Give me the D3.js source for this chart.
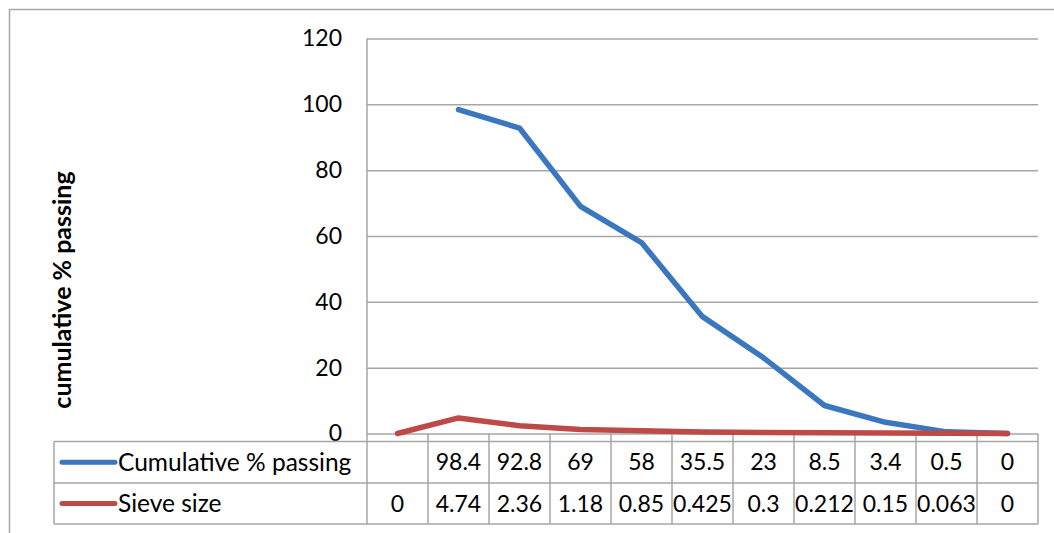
<!DOCTYPE html>
<html>
<head>
<meta charset="utf-8">
<script src="https://cdn.jsdelivr.net/npm/d3@7/dist/d3.min.js"></script>
<style>
html,body{margin:0;padding:0;background:#fff;}
svg{display:block;}
text{font-family:Lato,"Open Sans",sans-serif;fill:#000;}
</style>
</head>
<body>
<svg id="chart" width="1054" height="533"></svg>
<script>
// ---- data ----
const categories = ["1","2","3","4","5","6","7","8","9","10","11"];
const seriesNames = ["Cumulative % passing", "Sieve size"];
const cumulativePassing = [null, 98.4, 92.8, 69, 58, 35.5, 23, 8.5, 3.4, 0.5, 0];
const sieveSize = [0, 4.74, 2.36, 1.18, 0.85, 0.425, 0.3, 0.212, 0.15, 0.063, 0];
const sieveLabels = ["0","4.74","2.36","1.18","0.85","0.425","0.3","0.212","0.15","0.063","0"];
const yTicks = [0, 20, 40, 60, 80, 100, 120];
const yTitle = "cumulative % passing";
const colors = ["#3b77bf", "#be4a47"];

// ---- layout ----
const W = 1054, H = 533;
const plot = {left: 367, right: 1038, top: 38.5, bottom: 433.5};
const table = {left: 54, top: 441.5, mid: 483, bottom: 524};

const svg = d3.select("#chart");

// outer chart border
svg.append("rect")
  .attr("x", 9.5).attr("y", 9.5)
  .attr("width", W + 20).attr("height", H + 20)
  .attr("fill", "none").attr("stroke", "#a6a6a6").attr("stroke-width", 1.5);

const x = d3.scaleBand().domain(categories).range([plot.left, plot.right]).padding(0);
const y = d3.scaleLinear().domain([0, 120]).range([plot.bottom, plot.top]);

// gridlines
svg.append("g")
  .attr("transform", `translate(${plot.left},0)`)
  .call(d3.axisRight(y).tickValues(yTicks).tickSize(plot.right - plot.left).tickFormat(""))
  .call(g => g.select(".domain").remove())
  .call(g => g.selectAll("line").attr("stroke", "#a6a6a6").attr("stroke-width", 1.5));

// y axis
svg.append("g")
  .attr("transform", `translate(${plot.left},0)`)
  .call(d3.axisLeft(y).tickValues(yTicks).tickSize(0).tickPadding(25).tickFormat(d3.format("d")))
  .call(g => g.select(".domain").attr("stroke", "#a6a6a6").attr("stroke-width", 1.5)
     .attr("d", `M0,${plot.top}V${plot.bottom}`))
  .call(g => g.selectAll("text").attr("font-size", 23).attr("font-family", "Lato").attr("fill", "#000"));

// y title
svg.append("text")
  .attr("transform", `translate(71,290) rotate(-90)`)
  .attr("text-anchor", "middle")
  .attr("font-size", 25).attr("font-weight", "bold")
  .text(yTitle);

// ---- data table ----
const tg = svg.append("g").attr("stroke", "#a6a6a6").attr("stroke-width", 1.5);
[table.top, table.mid, table.bottom].forEach(yy => {
  tg.append("line").attr("x1", table.left).attr("x2", plot.right).attr("y1", yy).attr("y2", yy);
});
tg.append("line").attr("x1", table.left).attr("x2", table.left).attr("y1", table.top).attr("y2", table.bottom);
const bounds = categories.map(c => x(c)).concat([plot.right]);
bounds.forEach(bx => {
  tg.append("line").attr("x1", bx).attr("x2", bx).attr("y1", plot.bottom).attr("y2", table.bottom);
});

// legend keys in table
const rowsY = [(table.top + table.mid)/2, (table.mid + table.bottom)/2];
seriesNames.forEach((name, i) => {
  svg.append("line")
    .attr("x1", 62).attr("x2", 115).attr("y1", rowsY[i]).attr("y2", rowsY[i])
    .attr("stroke", colors[i]).attr("stroke-width", 5).attr("stroke-linecap", "round");
  svg.append("text")
    .attr("x", 118).attr("y", rowsY[i]).attr("dy", "0.35em")
    .attr("font-size", 24.5)
    .text(name);
});

// table values
const tableRows = [cumulativePassing.map(v => v == null ? "" : String(v)), sieveLabels];
tableRows.forEach((row, i) => {
  svg.append("g").selectAll("text").data(row).join("text")
    .attr("x", (d, j) => x(categories[j]) + x.bandwidth()/2)
    .attr("y", rowsY[i]).attr("dy", "0.35em")
    .attr("text-anchor", "middle")
    .attr("font-size", 23)
    .text(d => d);
});

// ---- lines ----
const line = d3.line()
  .defined(d => d.v != null)
  .x(d => x(d.c) + x.bandwidth()/2)
  .y(d => y(d.v));

[cumulativePassing, sieveSize].forEach((vals, i) => {
  svg.append("path")
    .datum(vals.map((v, j) => ({c: categories[j], v})))
    .attr("fill", "none")
    .attr("stroke", colors[i])
    .attr("stroke-width", 5.5)
    .attr("stroke-linejoin", "round")
    .attr("stroke-linecap", "round")
    .attr("d", line);
});
</script>
</body>
</html>
